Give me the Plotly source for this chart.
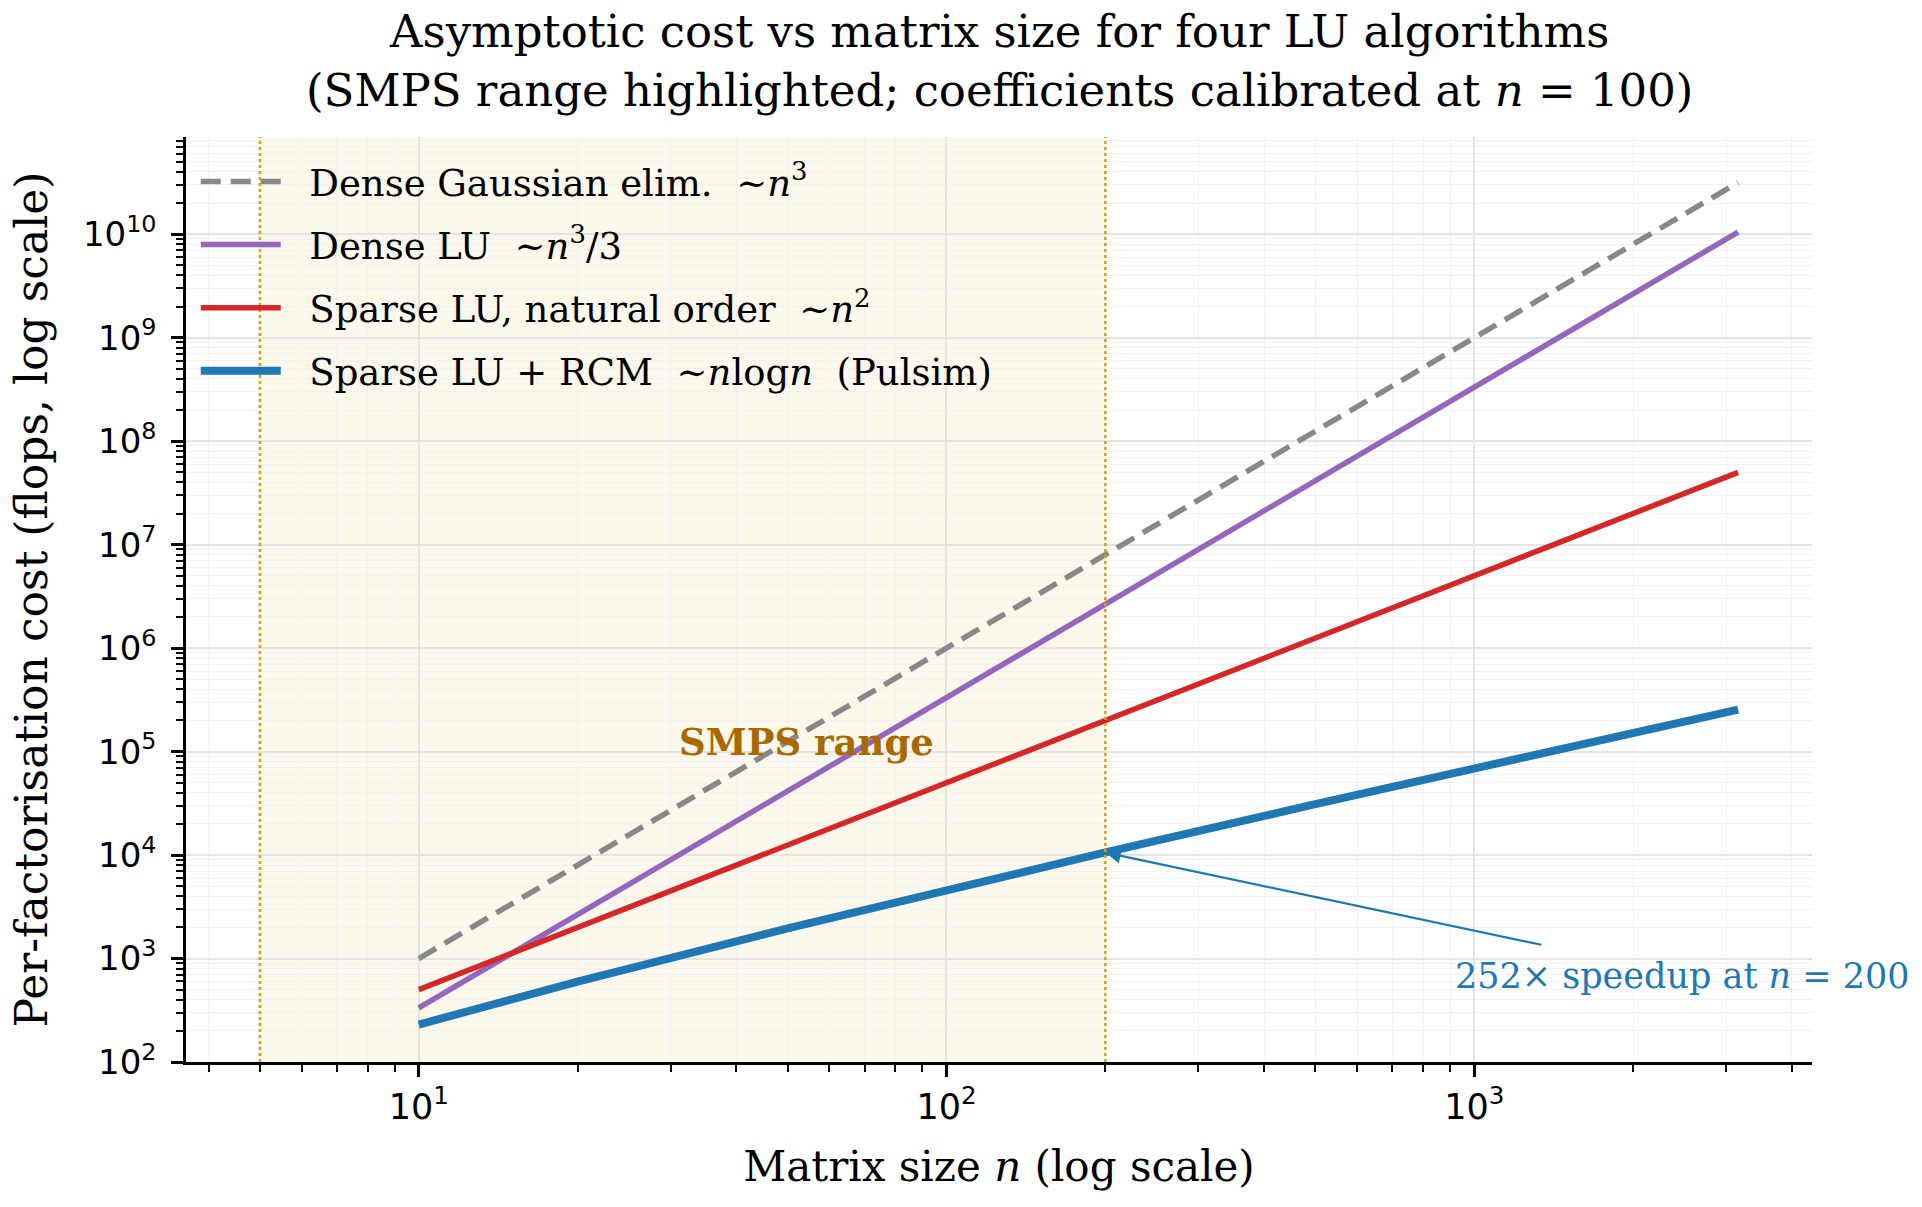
import plotly.graph_objects as go

# ---- data ----
n_vals = [10, 20, 50, 100, 200, 500, 1000, 2000, 3162]
dense_ge = [1.0e3, 8.0e3, 1.25e5, 1.0e6, 8.0e6, 1.25e8, 1.0e9, 8.0e9, 3.16e10]
dense_lu = [333, 2.67e3, 4.17e4, 3.33e5, 2.67e6, 4.17e7, 3.33e8, 2.67e9, 1.05e10]
sparse_nat = [500, 2.0e3, 1.25e4, 5.0e4, 2.0e5, 1.25e6, 5.0e6, 2.0e7, 5.0e7]
sparse_rcm = [230, 599, 1956, 4605, 1.06e4, 3.11e4, 6.91e4, 1.52e5, 2.55e5]

smps_lo, smps_hi = 5, 200
speedup_n, speedup_val = 200, 1.06e4
speedup_label = "252× speedup at <i>n</i> = 200"

x_tickvals = [10, 100, 1000]
x_ticktext = ["10<sup>1</sup>", "10<sup>2</sup>", "10<sup>3</sup>"]
x_minor = [4, 5, 6, 7, 8, 9, 20, 30, 40, 50, 60, 70, 80, 90,
           200, 300, 400, 500, 600, 700, 800, 900, 2000, 3000, 4000]
y_tickvals = [1e2, 1e3, 1e4, 1e5, 1e6, 1e7, 1e8, 1e9, 1e10]
y_ticktext = ["10<sup>%d</sup>" % k for k in range(2, 11)]
y_minor = [m * 10 ** k for k in range(2, 11) for m in range(2, 10)]

pad = "\u00a0\u00a0"
series = [
    (pad + "Dense Gaussian elim.  ∼<i>n</i><sup>3</sup>", dense_ge, "#888888", 5.5, "20px,10px"),
    (pad + "Dense LU  ∼<i>n</i><sup>3</sup>/3", dense_lu, "#9467bd", 5.5, "solid"),
    (pad + "Sparse LU, natural order  ∼<i>n</i><sup>2</sup>", sparse_nat, "#d62728", 5.5, "solid"),
    (pad + "Sparse LU + RCM  ∼<i>n</i>log<i>n</i>  (Pulsim)", sparse_rcm, "#1f77b4", 8, "solid"),
]

fig = go.Figure()
for name, vals, col, w, dash in series:
    fig.add_trace(go.Scatter(x=n_vals, y=vals, mode="lines", name=name, legendgroup=name,
                             line=dict(color=col, width=w, dash=dash)))

# SMPS highlighted span
fig.add_shape(type="rect", xref="x", yref="paper", x0=smps_lo, x1=smps_hi, y0=0, y1=1,
              fillcolor="#fdf8ec", line=dict(width=0), layer="below")
for xv in (smps_lo, smps_hi):
    fig.add_shape(type="line", xref="x", yref="paper", x0=xv, x1=xv, y0=0, y1=1,
                  line=dict(color="#d4a017", width=2.5, dash="dot"), layer="above")

fig.add_annotation(x=1.49, y=5.09, xref="x", yref="y", text="<b>SMPS range</b>",
                   showarrow=False, xanchor="left", yanchor="middle",
                   font=dict(family="DejaVu Serif", size=37, color="#a86a00"))

# arrow
fig.add_annotation(x=2.301, y=4.025, xref="x", yref="y", ax=3.13, ay=3.13,
                   axref="x", ayref="y", text="", showarrow=True,
                   arrowhead=2, arrowsize=1.4, arrowwidth=2.2, arrowcolor="#1f77b4",
                   standoff=0)
fig.add_annotation(x=2.96, y=2.83, xref="x", yref="y", text=speedup_label,
                   showarrow=False, xanchor="left", yanchor="middle",
                   font=dict(family="DejaVu Serif", size=35, color="#1f77b4"))

# title (as annotation so both lines anchor properly)
fig.add_annotation(x=0.5, y=1, xref="paper", yref="paper", yshift=18,
                   text="Asymptotic cost vs matrix size for four LU algorithms<br>(SMPS range highlighted; coefficients calibrated at <i>n</i> = 100)",
                   showarrow=False, xanchor="center", yanchor="bottom",
                   font=dict(family="DejaVu Serif", size=45, color="black"))

fig.update_layout(
    width=1922, height=1207,
    paper_bgcolor="white", plot_bgcolor="white",
    margin=dict(l=186, r=110, t=137, b=145),
    font=dict(family="DejaVu Serif", size=30, color="black"),
    legend=dict(x=0.006, y=0.985, xanchor="left", yanchor="top",
                bgcolor="rgba(0,0,0,0)", font=dict(family="DejaVu Serif", size=37),
                itemwidth=80, tracegroupgap=12),
    showlegend=True,
)

fig.update_xaxes(type="log", range=[0.559, 3.64],
                 title=dict(text="Matrix size <i>n</i> (log scale)", font=dict(size=42), standoff=26),
                 tickmode="array", tickvals=x_tickvals, ticktext=x_ticktext,
                 tickfont=dict(family="DejaVu Sans", size=35),
                 ticks="outside", ticklen=12, tickwidth=2.5, tickcolor="black",
                 showline=True, linecolor="black", linewidth=2.5,
                 showgrid=True, gridcolor="#e4e4e4", gridwidth=1.5, zeroline=False,
                 minor=dict(tickmode="array", tickvals=x_minor, ticks="outside", ticklen=7,
                            tickwidth=1.8, tickcolor="black", showgrid=True,
                            gridcolor="#f2f2f2", gridwidth=1.2))
fig.update_yaxes(type="log", range=[2, 10.94],
                 title=dict(text="Per-factorisation cost (flops, log scale)", font=dict(size=44), standoff=22),
                 tickmode="array", tickvals=y_tickvals, ticktext=y_ticktext,
                 tickfont=dict(family="DejaVu Sans", size=34),
                 ticks="outside", ticklen=12, tickwidth=2.5, tickcolor="black",
                 ticklabelstandoff=8,
                 showline=True, linecolor="black", linewidth=2.5,
                 showgrid=True, gridcolor="#e4e4e4", gridwidth=1.5, zeroline=False,
                 minor=dict(tickmode="array", tickvals=y_minor, ticks="outside", ticklen=7,
                            tickwidth=1.8, tickcolor="black", showgrid=True,
                            gridcolor="#f2f2f2", gridwidth=1.2))

fig.write_html("out.html")
